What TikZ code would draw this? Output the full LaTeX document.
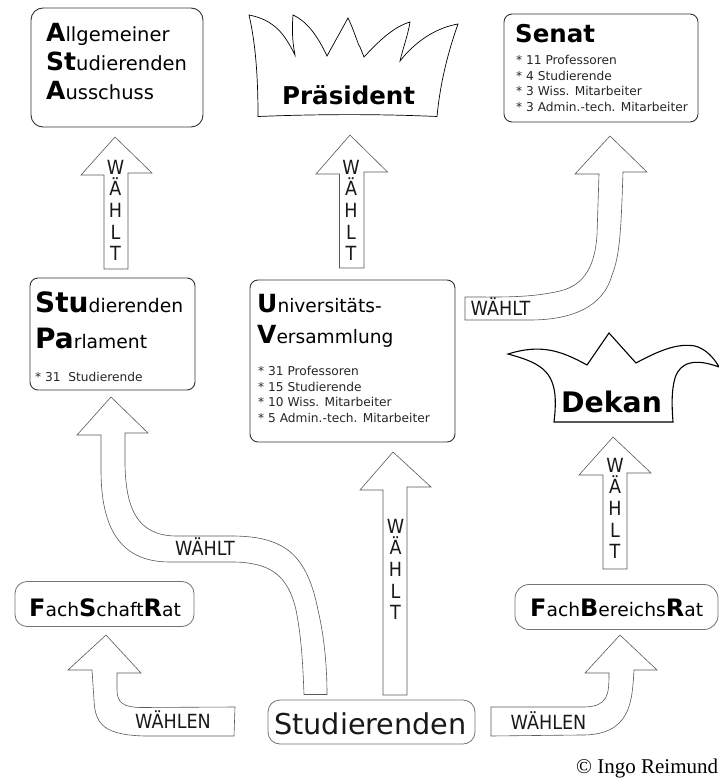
\documentclass[tikz,border=0pt]{standalone}
\usepackage{fontspec}
\setmainfont{DejaVu Sans}
\newfontfamily\copyfont{Liberation Serif}
\newfontfamily\labelfont[FakeStretch=0.9]{DejaVu Sans}
\newcommand{\fs}[1]{\fontsize{#1}{#1}\selectfont}
\newcommand{\hi}[2]{{\fontsize{#1}{#1}\selectfont\bfseries #2}}
\tikzset{
  boxdark/.style={draw=black!80,line width=0.9pt,fill=white},
  boxlight/.style={draw=black!55,line width=0.8pt,fill=white},
  blockarrow/.style={draw=black!65,line width=0.6pt,fill=white},
  hat/.style={draw=black,line width=0.8pt,fill=white},
  txt/.style={anchor=base west,inner sep=0pt,text=black},
  tiny list/.style={txt,font=\fs{12.2},text=black!85},
  stacked/.style={align=center,font=\labelfont\fontsize{19.5}{21.6}\selectfont,inner sep=0pt,anchor=north,text=black!90},
  arrowlabel/.style={txt,font=\labelfont\fs{19.5},text=black!90},
}
\begin{document}
\begin{tikzpicture}[x=1pt,y=-1pt]
\useasboundingbox (0,0) rectangle (719,778);
% boxes
\draw[boxdark] (31,8) [rounded corners=12pt] rectangle (203,127);
\draw[boxdark] (504,14) [rounded corners=8pt] rectangle (698,122);
\draw[boxdark] (30,278) [rounded corners=8pt] rectangle (195,390);
\draw[boxdark] (250,280) [rounded corners=8pt] rectangle (455,442);
\draw[boxlight] (15,581.5) [rounded corners=12pt] rectangle (194,626.5);
\draw[boxlight] (515,584.5) [rounded corners=14pt] rectangle (718,629.5);
\draw[boxlight] (268,700) [rounded corners=12pt] rectangle (475,744);
% hats
\draw[hat,line width=0.7pt] (249,15) .. controls (275,20) and (285,35) .. (295,55)
  .. controls (292,40) and (292,28) .. (293,15)
  .. controls (308,22) and (318,37) .. (327,56) -- (348,18)
  .. controls (354,30) and (358,45) .. (360,47) -- (364,57)
  .. controls (378,42) and (393,27) .. (410,22)
  .. controls (408,35) and (403,48) .. (400,61)
  .. controls (415,42) and (435,28) .. (458,24)
  .. controls (447,55) and (440,85) .. (437,116.5)
  .. controls (380,114) and (320,114) .. (258,116.5)
  .. controls (258,80) and (256,45) .. (249,15) -- cycle;
\draw[hat,line width=1.1pt] (508,354) .. controls (540,344) and (560,350) .. (587,365)
  -- (609,333) -- (636,363)
  .. controls (660,350) and (678,343) .. (695,346)
  .. controls (706,349) and (714,358) .. (719,367)
  .. controls (695,358) and (680,362) .. (675,378)
  .. controls (671,392) and (672,408) .. (673,422) -- (554,422)
  .. controls (556,405) and (556,392) .. (552,382)
  .. controls (546,366) and (530,360) .. (508,354) -- cycle;
% straight block arrows
\draw[blockarrow] (115,137) -- (152,173) -- (128,173) -- (128,269) -- (104,269) -- (104,175) -- (81,175) -- cycle;
\draw[blockarrow] (350,135) -- (387.5,172) -- (364,172) -- (364,268) -- (339.5,268) -- (339.5,174) -- (316,174) -- cycle;
\draw[blockarrow] (393,452) -- (431,487) -- (407,487) -- (407,695) -- (383,695) -- (383,490) -- (360,490) -- cycle;
\draw[blockarrow] (613,437) -- (651,473) -- (627,473) -- (627,569) -- (603,569) -- (603,475) -- (579,475) -- cycle;
% curved block arrows
\draw[blockarrow] (610,136) -- (647,172) -- (623,172)
  .. controls (621,230) and (620,255) .. (612,275)
  .. controls (603,308) and (570,320) .. (530,320) -- (465,320) -- (465,297)
  .. controls (500,297) and (530,298) .. (560,291)
  .. controls (585,285) and (595,265) .. (597,235)
  -- (599,174) -- (575,174) -- cycle;
\draw[blockarrow] (111,397) -- (148,433) -- (125,433) -- (125,465)
  .. controls (126,510) and (138,535) .. (175,536)
  -- (235,536)
  .. controls (285,537) and (307,555) .. (318,610)
  .. controls (325,640) and (327,670) .. (327,694.5) -- (304,694.5)
  .. controls (303,670) and (302,640) .. (296,610)
  .. controls (288,575) and (270,563) .. (235,562)
  -- (170,562)
  .. controls (125,562) and (101,535) .. (101,470) -- (101,435) -- (77,435) -- cycle;
\draw[blockarrow] (106,635) -- (141,673) -- (117,673) -- (117,690)
  .. controls (117,703) and (124,707) .. (140,707.5)
  -- (235,707) -- (234,736) -- (145,736)
  .. controls (105,735) and (95,725) .. (94,700)
  -- (92,670) -- (68,670) -- cycle;
\draw[blockarrow] (620,635) -- (657,670) -- (634,670)
  .. controls (632,700) and (632,736) .. (580,735)
  -- (491,736) -- (491,707) -- (585,707)
  .. controls (608,706) and (609,695) .. (609,673) -- (585,673) -- cycle;
% main texts
\node[txt,font=\fs{19.5}] (asta1) at (46,42) {\hi{25}{A}llgemeiner};
\node[txt,font=\fs{19.5}] (asta2) at (46,71) {\hi{25}{St}udierenden};
\node[txt,font=\fs{19.5}] (asta3) at (46,100) {\hi{25}{A}usschuss};
\node[txt,font=\fs{24.5}\bfseries] (praes) at (282,105) {Präsident};
\node[txt,font=\fs{24.5}\bfseries] (senat) at (515,43) {Senat};
\node[tiny list] (s1) at (516,65) {* 11 Professoren};
\node[tiny list] (s2) at (516,81) {* 4 Studierende};
\node[tiny list] (s3) at (516,96) {* 3 Wiss. Mitarbeiter};
\node[tiny list] (s4) at (516,112) {* 3 Admin.-tech. Mitarbeiter};
\node[txt,font=\fs{18.7}] (p1) at (35,312) {\hi{28}{Stu}dierenden};
\node[txt,font=\fs{18.7}] (p2) at (35,348) {\hi{28}{Pa}rlament};
\node[tiny list] (p3) at (35,381) {* 31\ \ Studierende};
\node[txt,font=\fs{18.6}] (u1) at (257,312) {\hi{25}{U}niversitäts-};
\node[txt,font=\fs{18.6}] (u2) at (257,343) {\hi{25}{V}ersammlung};
\node[tiny list] (u3) at (258,375) {* 31 Professoren};
\node[tiny list] (u4) at (258,391) {* 15 Studierende};
\node[tiny list] (u5) at (258,406) {* 10 Wiss. Mitarbeiter};
\node[tiny list] (u6) at (258,422) {* 5 Admin.-tech. Mitarbeiter};
\node[txt,font=\fs{28.3}\bfseries] (dekan) at (561,412) {Dekan};
\node[txt,font=\fs{18.7}] (fsr) at (29,616) {\hi{24}{F}ach\hi{24}{S}chaft\hi{24}{R}at};
\node[txt,font=\fs{18.7}] (fbr) at (530,616) {\hi{24}{F}ach\hi{24}{B}ereichs\hi{24}{R}at};
\node[txt,font=\fs{28.7},text=black!90] (stud) at (274,734) {Studierenden};
\node[txt,font=\copyfont\fs{21}] (copy) at (576,773) {© Ingo Reimund};
% arrow labels
\node[stacked] (l1) at (115.5,159.8) {W\\Ä\\H\\L\\T};
\node[stacked] (l2) at (351,159.8) {W\\Ä\\H\\L\\T};
\node[stacked] (l3) at (395.5,518.8) {W\\Ä\\H\\L\\T};
\node[stacked] (l4) at (615,457.8) {W\\Ä\\H\\L\\T};
\node[arrowlabel] (l5) at (470.5,315) {WÄHLT};
\node[arrowlabel] (l6) at (175,555) {WÄHLT};
\node[arrowlabel] (l7) at (135,728.5) {WÄHLEN};
\node[arrowlabel] (l8) at (510.5,729.5) {WÄHLEN};
\end{tikzpicture}
\end{document}
